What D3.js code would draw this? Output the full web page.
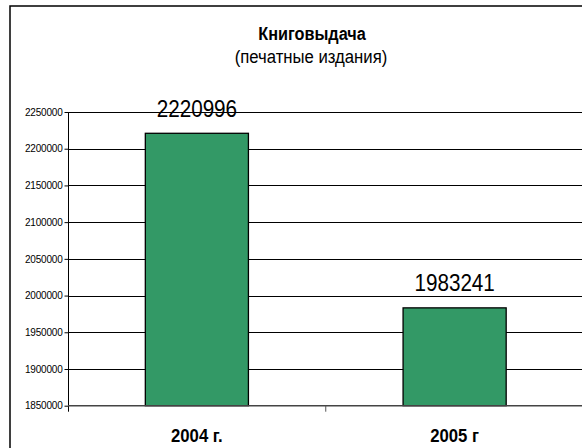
<!DOCTYPE html>
<html><head><meta charset="utf-8">
<script src="https://cdn.jsdelivr.net/npm/d3@7"></script>
<style>
html,body{margin:0;padding:0;background:#fff;overflow:hidden;}
svg{display:block;overflow:hidden;}
</style></head>
<body>
<svg id="chart" width="582" height="448"></svg>
<script>
const categories = ["2004 г.", "2005 г"];
const values = [2220996, 1983241];
const yTicks = [1850000, 1900000, 1950000, 2000000, 2050000, 2100000, 2150000, 2200000, 2250000];
const titleText = "Книговыдача";
const subtitleText = "(печатные издания)";

const svg = d3.select("#chart");
const m = {left: 68, right: 583.5, top: 112, bottom: 405.7};
const FONT = "Liberation Sans, Arial, sans-serif";
const SX = 0.88; // horizontal compression like the original

// outer border
svg.append("rect").attr("x", 10).attr("y", 6).attr("width", 600).attr("height", 480)
  .attr("fill", "#fff").attr("stroke", "#000").attr("stroke-width", 1.5);

const x = d3.scaleBand().domain(categories).range([m.left, m.right]).paddingInner(0).paddingOuter(0);
const y = d3.scaleLinear().domain([1850000, 2250000]).range([m.bottom, m.top]);

// gridlines (run off the right edge like the original)
svg.append("g").selectAll("line").data(yTicks.slice(1)).join("line")
  .attr("x1", m.left).attr("x2", 600)
  .attr("y1", d => Math.round(y(d)) + 0.5).attr("y2", d => Math.round(y(d)) + 0.5)
  .attr("stroke", "#000").attr("stroke-width", 1);

// y axis
const yAxis = d3.axisLeft(y).tickValues(yTicks).tickSize(4).tickPadding(2).tickFormat(d3.format("d"));
const gy = svg.append("g").attr("transform", `translate(${m.left + 0.5},0)`).call(yAxis);
gy.select(".domain").attr("d", `M0,${m.top}V${m.bottom + 6}`).attr("stroke", "#000");
gy.selectAll(".tick line").attr("stroke", "#000");
gy.selectAll(".tick text").attr("font-family", FONT)
  .attr("font-size", 10).attr("fill", "#000").attr("letter-spacing", "-0.2");

// bars
const barW = x.bandwidth() * 0.4;
svg.append("g").selectAll("rect").data(values).join("rect")
  .attr("x", (d, i) => x(categories[i]) + (x.bandwidth() - barW) / 2)
  .attr("y", d => y(d))
  .attr("width", barW)
  .attr("height", d => y(1850000) - y(d))
  .attr("fill", "#339966").attr("stroke", "#000").attr("stroke-width", 1.3);

// x axis
const xAxis = d3.axisBottom(x).tickSize(0).tickSizeOuter(0).tickFormat("");
const gx = svg.append("g").attr("transform", `translate(0,${m.bottom})`).call(xAxis);
gx.select(".domain").attr("d", `M${m.left},0H600`).attr("stroke", "#444").attr("stroke-width", 1.5);
gx.selectAll("line.bt").data([x(categories[1])]).join("line").attr("class", "bt")
  .attr("x1", d => d).attr("x2", d => d).attr("y1", 0).attr("y2", 6).attr("stroke", "#555");

function label(parent, px, py, size, weight, txt) {
  parent.append("g").attr("transform", `translate(${px},${py}) scale(${SX},1)`)
    .append("text").attr("text-anchor", "middle")
    .attr("font-family", FONT).attr("font-size", size).attr("font-weight", weight)
    .attr("fill", "#000").text(txt);
}

// category labels
const gc = svg.append("g");
categories.forEach(c => label(gc, x(c) + x.bandwidth() / 2, 442, 19, "bold", c));

// value labels
const gv = svg.append("g");
values.forEach((v, i) => label(gv, x(categories[i]) + x.bandwidth() / 2, y(v) - 16.5, 23.5, "normal", String(v)));

// titles
label(svg, 312, 40, 18.5, "bold", titleText);
label(svg, 311, 63, 19, "normal", subtitleText);
</script>
</body></html>
